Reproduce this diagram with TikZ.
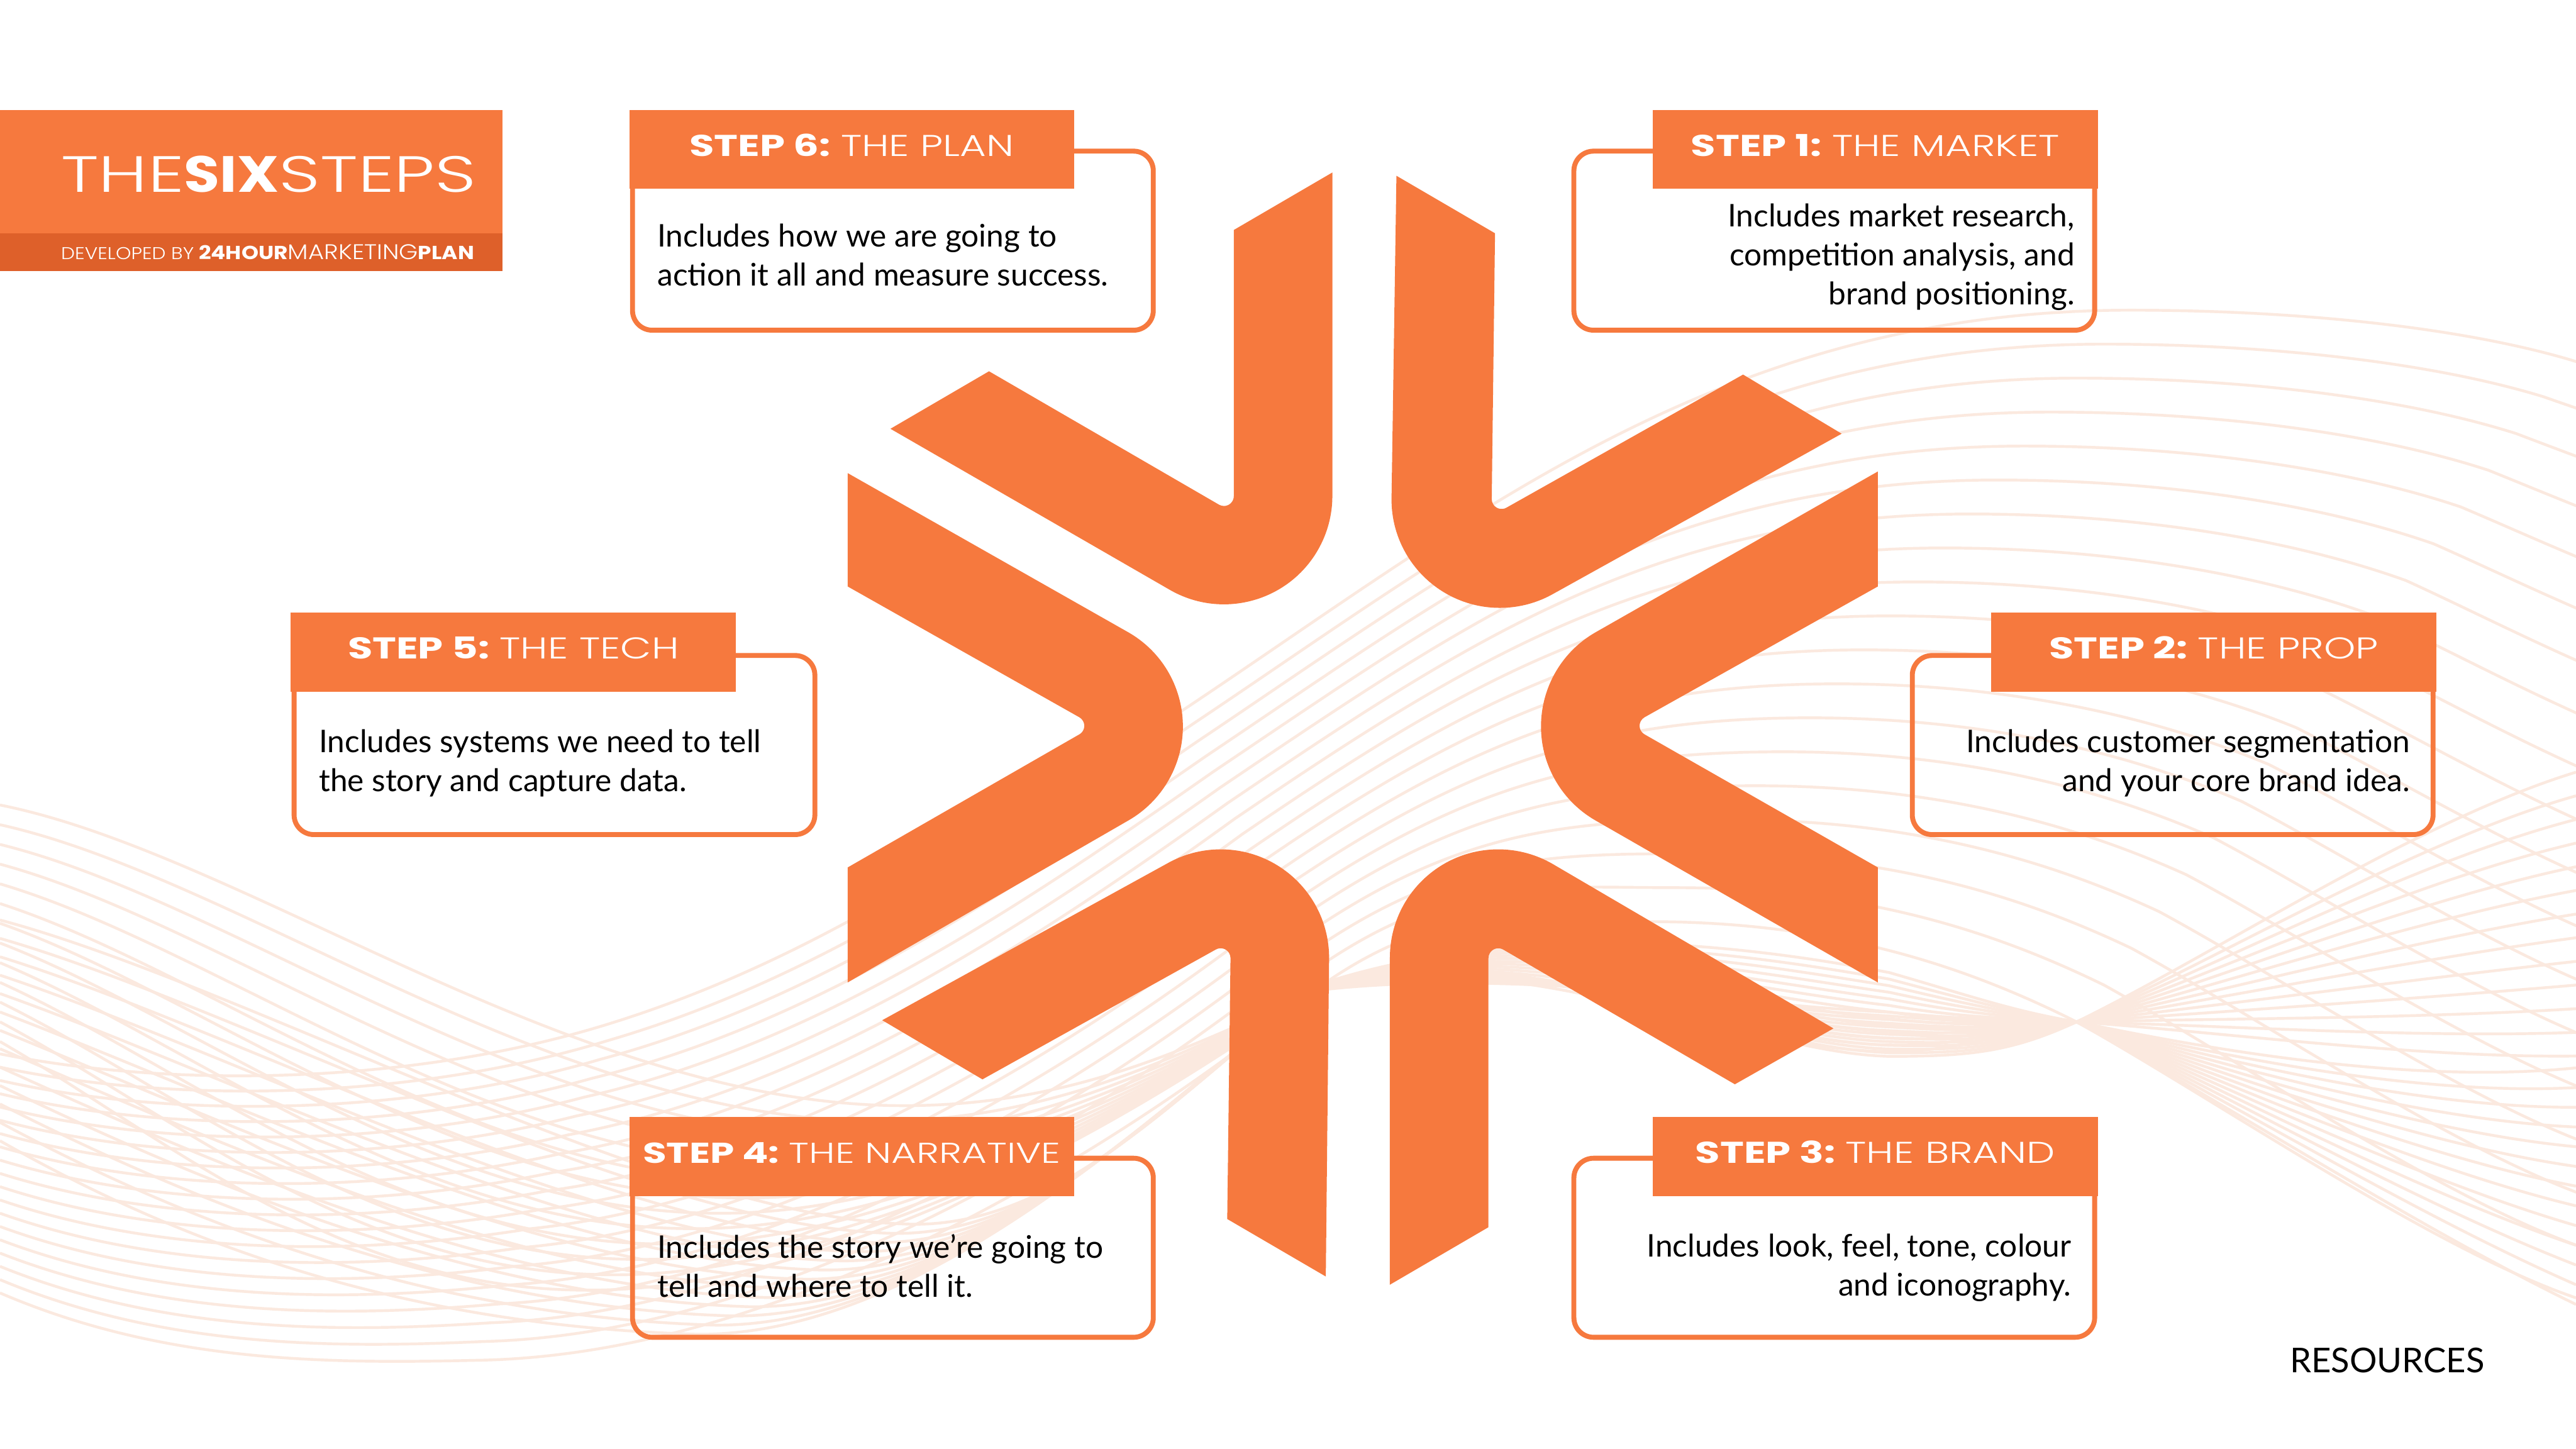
\documentclass[tikz,border=0pt]{standalone}
\usepackage{fontspec}
\setmainfont{Lato}
\newfontfamily\headfont{Poppins}[FakeStretch=1.34]
\newfontfamily\thinfont{Poppins Light}[FakeStretch=1.34]
\newfontfamily\titlethinfont{Poppins Light}[FakeStretch=1.42]
\newfontfamily\bandfont{Poppins}[FakeStretch=1.145]
\newfontfamily\bandthinfont{Poppins Light}[FakeStretch=1.145]
\usetikzlibrary{calc}
\definecolor{logoorange}{HTML}{F6793E}
\definecolor{banddark}{HTML}{DE602A}
\definecolor{wavetint}{HTML}{FBE9DF}
\tikzset{
	waveline/.style={draw=wavetint, line width=1.7pt},
	arrowpart/.style={fill=logoorange},
	stepbox/.style={draw=logoorange, line width=3pt, rounded corners=12pt, minimum width=317pt, minimum height=109pt, anchor=north west, outer sep=0pt},
	stephead/.style={fill=logoorange, text=white, minimum width=271pt, minimum height=48pt, anchor=north west, inner sep=0pt, outer sep=0pt, text height=12pt, text depth=4pt, font=\fontsize{18.3}{24}\selectfont},
	steptext/.style={inner sep=0pt, font=\fontsize{19}{23.7}\selectfont}
}
\newcommand{\boldpart}[1]{{\headfont\bfseries #1}}
\newcommand{\lightpart}[1]{{\thinfont #1}}
\def\waveset#1#2{
	\foreach \t in {0,#2,...,1.001}{
		\draw[waveline] ($(#1a0)!\t!(#1b0)$)
			.. controls ($(#1a1)!\t!(#1b1)$) and ($(#1a2)!\t!(#1b2)$) .. ($(#1a3)!\t!(#1b3)$)
			.. controls ($(#1a4)!\t!(#1b4)$) and ($(#1a5)!\t!(#1b5)$) .. ($(#1a6)!\t!(#1b6)$)
			.. controls ($(#1a7)!\t!(#1b7)$) and ($(#1a8)!\t!(#1b8)$) .. ($(#1a9)!\t!(#1b9)$)
			.. controls ($(#1a10)!\t!(#1b10)$) and ($(#1a11)!\t!(#1b11)$) .. ($(#1a12)!\t!(#1b12)$)
			.. controls ($(#1a13)!\t!(#1b13)$) and ($(#1a14)!\t!(#1b14)$) .. ($(#1a15)!\t!(#1b15)$);
	}
}

\begin{document}
\begin{tikzpicture}[x=1pt, y=-1pt]
	%%%%% FRAME %%%%%
	\useasboundingbox (0, 0) rectangle (1568, 882);
	\fill[white] (0, 0) rectangle (1568, 882);

	%%%%% WAVES %%%%%
	\foreach \n/\p/\q in {
		0/{0,787}/{0,640}, 1/{100,830}/{100,660}, 2/{200,830}/{250,660}, 3/{290,828}/{375,620},
		4/{480,825}/{500,580}, 5/{680,700}/{600,510}, 6/{800,603}/{720,430},
		7/{880,545}/{900,310}, 8/{930,561}/{1050,185}, 9/{1004,561}/{1300,185},
		10/{1120,561}/{1400,185}, 11/{1200,590}/{1500,195}, 12/{1264,622}/{1568,215},
		13/{1350,670}/{1600,225}, 14/{1480,760}/{1640,235}, 15/{1568,790}/{1680,245}}{
		\coordinate (arca\n) at (\p);
		\coordinate (arcb\n) at (\q);
	}
	\foreach \n/\p/\q in {
		0/{0,490}/{0,640}, 1/{150,520}/{100,700}, 2/{350,673}/{200,790}, 3/{550,673}/{350,790},
		4/{650,673}/{500,790}, 5/{720,640}/{680,690}, 6/{800,603}/{800,603},
		7/{920,560}/{920,590}, 8/{1050,640}/{1050,610}, 9/{1150,643}/{1150,615},
		10/{1200,643}/{1200,620}, 11/{1225,640}/{1225,620}, 12/{1264,622}/{1264,622},
		13/{1350,580}/{1350,630}, 14/{1470,500}/{1470,650}, 15/{1568,470}/{1568,650}}{
		\coordinate (risea\n) at (\p);
		\coordinate (riseb\n) at (\q);
	}
	\foreach \n/\p/\q in {
		0/{0,560}/{0,700}, 1/{150,600}/{120,770}, 2/{400,740}/{250,810}, 3/{550,745}/{420,815},
		4/{650,750}/{560,815}, 5/{730,650}/{700,680}, 6/{800,603}/{800,600},
		7/{920,570}/{920,560}, 8/{1050,640}/{1050,570}, 9/{1150,640}/{1150,590},
		10/{1200,640}/{1200,605}, 11/{1225,625}/{1225,615}, 12/{1264,622}/{1264,622},
		13/{1350,640}/{1350,670}, 14/{1470,660}/{1470,750}, 15/{1568,650}/{1568,800}}{
		\coordinate (fana\n) at (\p);
		\coordinate (fanb\n) at (\q);
	}
	\waveset{arc}{0.055}
	\waveset{rise}{0.08}
	\waveset{fan}{0.08}

	%%%%% LOGO %%%%%
	\fill[arrowpart] (811, 105) -- (751, 140) -- (751, 302) arc (0:120:6) -- (602, 226) -- (542, 261) -- (712, 359) arc (120:0:66) -- cycle;
	\fill[arrowpart] (850, 107) -- (847, 304) arc (180:60:66) -- (1121, 264) -- (1061, 228) -- (917, 309) arc (60:180:6) -- (910, 142) -- cycle;
	\fill[arrowpart] (516, 288) -- (687, 385) arc (-60:60:66) -- (516, 598) -- (516, 528) -- (657, 447) arc (60:-60:6) -- (516, 357) -- cycle;
	\fill[arrowpart] (1143, 287) -- (971, 385) arc (240:120:66) -- (1143, 598) -- (1143, 528) -- (1001, 447) arc (120:240:6) -- (1143, 357) -- cycle;
	\fill[arrowpart] (807, 777) -- (809, 583) arc (0:-120:66) -- (537, 621) -- (598, 657) -- (740, 578) arc (-120:0:6) -- (747, 742) -- cycle;
	\fill[arrowpart] (846, 782) -- (846, 583) arc (180:300:66) -- (1116, 626) -- (1056, 660) -- (915, 578) arc (300:180:6) -- (906, 583) -- (906, 747) -- cycle;

	%%%%% TITLE %%%%%
	\fill[logoorange] (0, 67) rectangle (306, 142);
	\fill[banddark] (0, 142) rectangle (306, 165);
	\node[text=white, anchor=west, inner sep=0pt, font=\fontsize{31}{31}\selectfont] (sixsteps) at (37, 106) {{\titlethinfont THE}{\bandfont\bfseries SIX}{\titlethinfont STEPS}};
	\node[text=white, anchor=west, inner sep=0pt, font=\fontsize{11.5}{12}\selectfont] (developed) at (37, 153.5) {{\fontsize{10.4}{12}\selectfont\bandthinfont DEVELOPED BY} {\bandfont\bfseries 24HOUR}{\fontsize{12.9}{12}\selectfont\bandthinfont MARKETING}{\bandfont\bfseries PLAN}};

	%%%%% STEPS %%%%%
	\node[stepbox] (planbox) at (385, 92) {};
	\node[stephead] (planhead) at (383, 67) {\boldpart{STEP 6:} \lightpart{THE PLAN}};
	\node[steptext, anchor=north west, align=left] (plantext) at (400, 136) {Includes how we are going to\\action it all and measure success.};

	\node[stepbox] (marketbox) at (958, 92) {};
	\node[stephead] (markethead) at (1006, 67) {\boldpart{STEP 1:} \lightpart{THE MARKET}};
	\node[steptext, anchor=north east, align=right] (markettext) at (1263, 124) {Includes market research,\\competition analysis, and\\brand positioning.};

	\node[stepbox] (techbox) at (179, 399) {};
	\node[stephead] (techhead) at (177, 373) {\boldpart{STEP 5:} \lightpart{THE TECH}};
	\node[steptext, anchor=north west, align=left] (techtext) at (194, 444) {Includes systems we need to tell\\the story and capture data.};

	\node[stepbox] (propbox) at (1164, 399) {};
	\node[stephead] (prophead) at (1212, 373) {\boldpart{STEP 2:} \lightpart{THE PROP}};
	\node[steptext, anchor=north east, align=right] (proptext) at (1467, 444) {Includes customer segmentation\\and your core brand idea.};

	\node[stepbox] (narrativebox) at (385, 705) {};
	\node[stephead, font=\fontsize{17.5}{24}\selectfont] (narrativehead) at (383, 680) {\boldpart{STEP 4:} \lightpart{THE NARRATIVE}};
	\node[steptext, anchor=north west, align=left] (narrativetext) at (400, 751) {Includes the story we're going to\\tell and where to tell it.};

	\node[stepbox] (brandbox) at (958, 705) {};
	\node[stephead] (brandhead) at (1006, 680) {\boldpart{STEP 3:} \lightpart{THE BRAND}};
	\node[steptext, anchor=north east, align=right] (brandtext) at (1261, 751) {Includes look, feel, tone, colour\\and iconography.};

	\node[anchor=east, inner sep=0pt, font=\fontsize{20.8}{24}\selectfont] (resources) at (1512.5, 828) {RESOURCES};
\end{tikzpicture}
\end{document}
